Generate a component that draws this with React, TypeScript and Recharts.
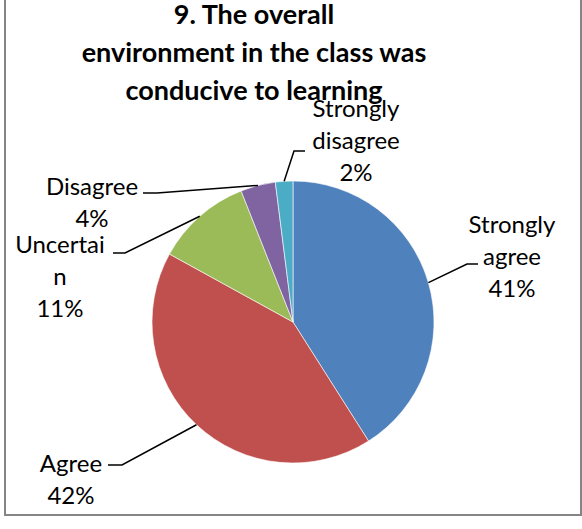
import React from "react";
import { PieChart, Pie, Cell } from "recharts";

const categories = ["Strongly agree", "Agree", "Uncertain", "Disagree", "Strongly disagree"];
const percents = [41, 42, 11, 4, 2];
const colors = ["#4F81BD", "#C0504D", "#9BBB59", "#8064A2", "#4BACC6"];
const labelLines = [["Strongly", "agree"], ["Agree"], ["Uncertai", "n"], ["Disagree"], ["Strongly", "disagree"]];
const titleLines = ["9. The overall", "environment in the class was", "conducive to learning"];

const data = categories.map((name, i) => ({ name, value: percents[i] }));

// label layout (screen positions of leader elbows and text blocks)
const labelLayout = [
  { elbow: [467, 264], end: [478, 264], tx: 512, ty: 233 },
  { elbow: [122, 465], end: [108, 465], tx: 71, ty: 472 },
  { elbow: [125, 253], end: [113, 253], tx: 60, ty: 253 },
  { elbow: [157, 193], end: [143, 193], tx: 92, ty: 195 },
  { elbow: [294, 151], end: [305, 151], tx: 356, ty: 117 },
];

const FONT = "Lato, 'Open Sans', sans-serif";
const RAD = Math.PI / 180;

const renderLabel = (props: any) => {
  const { cx, cy, midAngle, outerRadius, index, value } = props;
  const ax = cx + outerRadius * Math.cos(-midAngle * RAD);
  const ay = cy + outerRadius * Math.sin(-midAngle * RAD);
  const L = labelLayout[index];
  const lines = [...labelLines[index], `${value}%`];
  return (
    <g key={`lbl-${index}`}>
      <polyline
        points={`${ax},${ay} ${L.elbow[0]},${L.elbow[1]} ${L.end[0]},${L.end[1]}`}
        fill="none"
        stroke="#000"
        strokeWidth={1.5}
      />
      <text textAnchor="middle" fontFamily={FONT} fontSize={24} fill="#000">
        {lines.map((t, i) => (
          <tspan key={i} x={L.tx} y={L.ty + i * 32}>
            {t}
          </tspan>
        ))}
      </text>
    </g>
  );
};

export default function App() {
  return (
    <div style={{ position: "absolute", left: 0, top: 0, width: 582, height: 529, background: "#fff", overflow: "hidden" }}>
      <div
        style={{
          position: "absolute",
          left: 4,
          top: -10,
          width: 578,
          height: 526,
          boxSizing: "border-box",
          border: "2px solid #858585",
        }}
      />
      <div style={{ position: "absolute", left: 0, top: 0 }}>
        <PieChart width={582} height={529} margin={{ top: 0, right: 0, bottom: 0, left: 0 }}>
          <Pie
            data={data}
            dataKey="value"
            nameKey="name"
            cx={293}
            cy={322}
            outerRadius={141}
            startAngle={90}
            endAngle={-270}
            stroke="#fff"
            strokeWidth={0.6}
            label={renderLabel}
            labelLine={false}
            isAnimationActive={false}
          >
            {data.map((d, i) => (
              <Cell key={d.name} fill={colors[i]} />
            ))}
          </Pie>
        </PieChart>
      </div>
      <svg width={582} height={529} style={{ position: "absolute", left: 0, top: 0, pointerEvents: "none" }}>
        <text textAnchor="middle" fontFamily={FONT} fontWeight="bold" fontSize={27} fill="#000">
          {titleLines.map((t, i) => (
            <tspan key={i} x={254} y={24 + i * 38}>
              {t}
            </tspan>
          ))}
        </text>
      </svg>
    </div>
  );
}
